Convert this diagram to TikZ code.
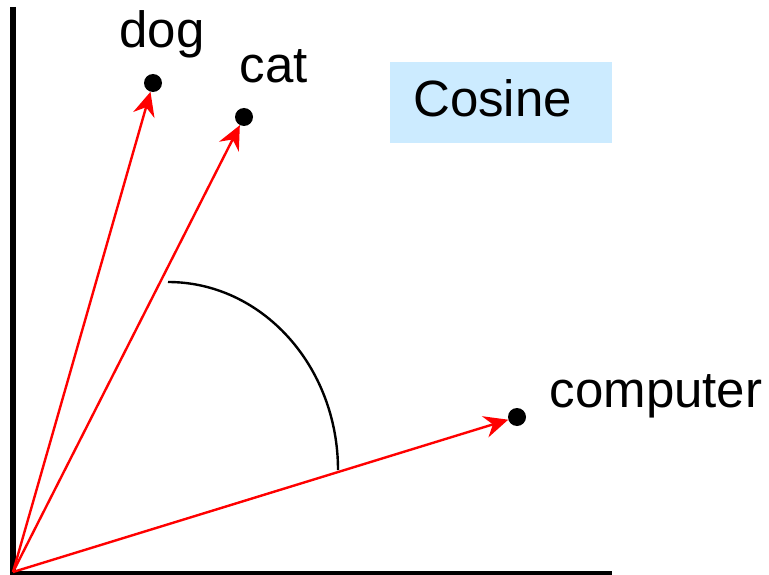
\documentclass[tikz,border=0pt]{standalone}
\usepackage{fontspec}
\setmainfont{Liberation Sans}
\usetikzlibrary{arrows.meta,positioning}
\definecolor{vecRed}{HTML}{FF0000}
\definecolor{boxBlue}{HTML}{CCEBFF}
\tikzset{
  wdot/.style={circle,fill=black,inner sep=0pt,minimum size=18pt},
  wvec/.style={vecRed,line width=2.4pt,-{Stealth[length=24pt,width=22pt,inset=8pt]}},
  wlabel/.style={font=\fontsize{51}{60}\selectfont,inner sep=0pt,anchor=base},
}
\begin{document}
\begin{tikzpicture}[x=1pt,y=-1pt]
  \useasboundingbox (0,0) rectangle (769,575);
  % axes
  \coordinate (o) at (13,572);
  \coordinate (corner) at (13,574);
  \coordinate (ytop) at (13,7);
  \coordinate (xend) at (612,574);
  \draw[line width=5.5pt] (ytop) -- (corner) -- (xend);
  % word vectors
  \node[wdot] (dog) at (153,83) {};
  \node[wdot] (cat) at (244,117) {};
  \node[wdot] (computer) at (517,417) {};
  \node[wlabel] (doglbl) at (162,48) {dog};
  \node[wlabel] (catlbl) at (274,83) {cat};
  \node[wlabel] (complbl) at (656,407) {computer};
  \draw[wvec] (o) -- (dog);
  \draw[wvec] (o) -- (cat);
  \draw[wvec] (o) -- (computer);
  % angle
  \draw[line width=2.4pt] (168,282) arc[start angle=-90,end angle=0,x radius=170,y radius=188];
  \node[fill=boxBlue,anchor=west,font=\fontsize{51}{60}\selectfont,
        text width=176pt,align=left,inner xsep=23pt,inner ysep=0pt,
        text height=36pt,text depth=7pt,minimum height=81pt] (cosine) at (390,102.5) {Cosine};
\end{tikzpicture}
\end{document}
